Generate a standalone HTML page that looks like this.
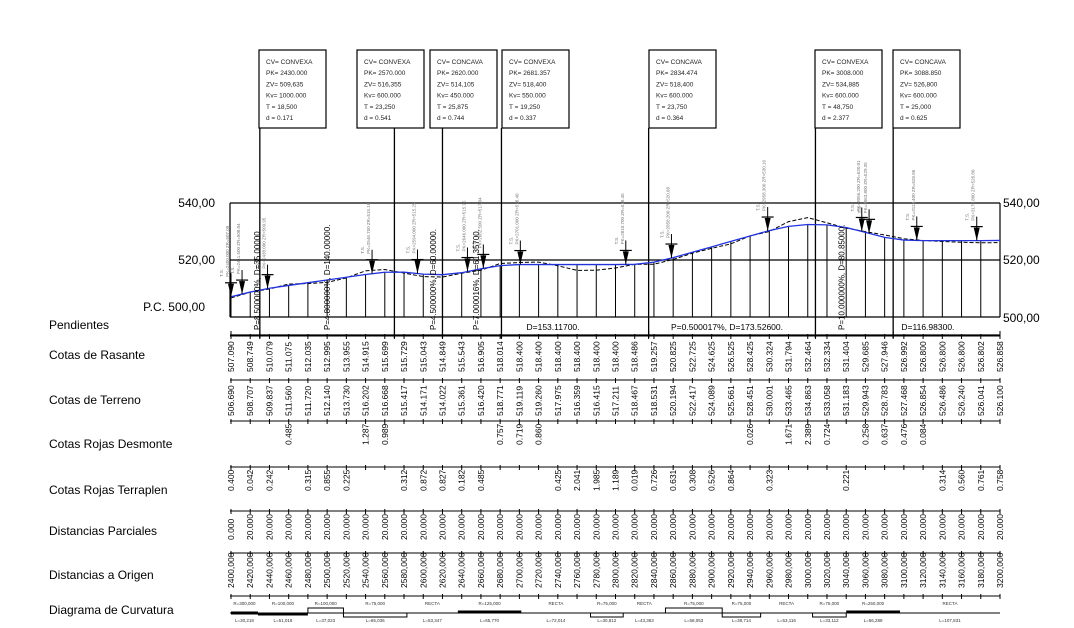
<!DOCTYPE html>
<html><head><meta charset="utf-8"><style>
html,body{margin:0;padding:0;background:#fff;}
svg{display:block;font-family:"Liberation Sans",sans-serif;}
</style></head><body>
<svg id="c" width="1074" height="628" viewBox="0 0 1074 628" xmlns="http://www.w3.org/2000/svg"></svg>
<script>
const stations=[2400,2420,2440,2460,2480,2500,2520,2540,2560,2580,2600,2620,2640,2660,2680,2700,2720,2740,2760,2780,2800,2820,2840,2860,2880,2900,2920,2940,2960,2980,3000,3020,3040,3060,3080,3100,3120,3140,3160,3180,3200];
const rasante=[507.090,508.749,510.079,511.075,512.035,512.995,513.955,514.915,515.699,515.729,515.043,514.849,515.543,516.905,518.014,518.400,518.400,518.400,518.400,518.400,518.400,518.486,519.257,520.825,522.725,524.625,526.525,528.425,530.324,531.794,532.464,532.334,531.404,529.685,527.946,526.992,526.800,526.800,526.800,526.802,526.858];
const terreno=[506.690,508.707,509.837,511.560,511.720,512.140,513.730,516.202,516.668,515.417,514.171,514.022,515.361,516.420,518.771,519.119,519.260,517.975,516.359,516.415,517.211,518.467,518.531,520.194,522.417,524.089,525.661,528.451,530.001,533.465,534.863,533.058,531.183,529.943,528.783,527.468,526.854,526.486,526.240,526.041,526.100];
const desmonte={3:"0.485",7:"1.287",8:"0.989",14:"0.757",15:"0.719",16:"0.860",27:"0.026",29:"1.671",30:"2.389",31:"0.724",33:"0.258",34:"0.637",35:"0.476",36:"0.084"};
const terraplen={0:"0.400",1:"0.042",2:"0.242",4:"0.315",5:"0.855",6:"0.225",9:"0.312",10:"0.872",11:"0.827",12:"0.182",13:"0.485",17:"0.425",18:"2.041",19:"1.985",20:"1.189",21:"0.019",22:"0.726",23:"0.631",24:"0.308",25:"0.526",26:"0.864",28:"0.323",32:"0.221",37:"0.314",38:"0.560",39:"0.761",40:"0.758"};
const parciales=stations.map((s,i)=>i===0?"0.000":"20.000");
const vertices=[2430,2570,2620,2681.357,2834.474,3008,3088.85];
const cvType=["CONVEXA","CONVEXA","CONCAVA","CONVEXA","CONCAVA","CONVEXA","CONCAVA"];
const cvPK=["2430.000","2570.000","2620.000","2681.357","2834.474","3008.000","3088.850"];
const cvZV=["509,635","516,355","514,105","518,400","518,400","534,885","526,800"];
const cvKv=["1000.000","600.000","450.000","550.000","600.000","600.000","600.000"];
const cvT=["18,500","23,250","25,875","19,250","23,750","48,750","25,000"];
const cvD=["0.171","0.541","0.744","0.337","0.364","2.377","0.625"];
const boxLeft=[259,357,430,502,649,815,893];
const markers=[2400,2411.5,2438,2546.75,2594,2646,2662.5,2701,2810.7,2858.2,2958.3,3056.2,3063.8,3113.4,3175.8];
const slopes=[["P=8.500000%, D=35.00000.",2427,1],["P=4.800000%, D=140.00000.",2500,1],["P=4.500000%, D=60.00000.",2610,1],["P=7.000016%, D=61.35700.",2655,1],["D=153.11700.",2735,0],["P=0.500017%, D=173.52600.",2916,0],["P=10.000000%, D=80.85000.",3035,1],["D=116.98300.",3125,0]];
const curvSeg=[[2400,2428,"thick","R=300,000","L=30,218"],[2428,2480,"thick2","R=100,000","L=51,018"],[2480,2517,"up","R=100,000","L=37,023"],[2517,2583,"down","R=75,000","L=65,036"],[2583,2636,"flat","RECTA","L=53,347"],[2636,2702,"thick3","R=125,000","L=65,770"],[2702,2774,"flat","RECTA","L=72,014"],[2774,2808,"down","R=75,000","L=30,812"],[2808,2852,"flat","RECTA","L=43,363"],[2852,2911,"up","R=75,000","L=58,053"],[2911,2951,"down","R=75,000","L=38,714"],[2951,3005,"flat","RECTA","L=53,116"],[3005,3040,"down","R=75,000","L=33,112"],[3040,3096,"thick3","R=250,000","L=56,288"],[3096,3200,"flat","RECTA","L=107,831"]];

const svg=document.getElementById('c');
const NS="http://www.w3.org/2000/svg";
const X0=231,X1=1000,Ytop=203,Ybot=317;
function xs(pk){return X0+(pk-2400)*(X1-X0)/800;}
function ys(v){return Ybot-(v-500)*(Ybot-Ytop)/40;}
function el(tag,attrs,parent){const e=document.createElementNS(NS,tag);for(const k in attrs)e.setAttribute(k,attrs[k]);(parent||svg).appendChild(e);return e;}
function line(x1,y1,x2,y2,w,c,name){const e=el('line',{x1,y1,x2,y2,stroke:c||'#000','stroke-width':w||1});

return e;}
function text(x,y,t,opts,name){const e=el('text',Object.assign({x,y,'font-size':12,fill:'#000'},opts||{}));e.textContent=t;

return e;}
function rtext(x,y,t,size,name,fill){const e=el('text',{x:0,y:0,'font-size':size,fill:fill||'#000',transform:`translate(${x},${y}) rotate(-90)`});e.textContent=t;

return e;}
function rasAt(pk){for(let i=0;i<stations.length-1;i++){if(pk>=stations[i]&&pk<=stations[i+1]){const t=(pk-stations[i])/20;return rasante[i]+t*(rasante[i+1]-rasante[i]);}}return rasante[rasante.length-1];}

// CV boxes
vertices.forEach((pk,i)=>{
 const bx=boxLeft[i],g=el('g',{});
 
 
 const r=el('rect',{x:bx,y:50,width:67,height:78,fill:'#fff',stroke:'#000','stroke-width':1.2},g);
 
 
 const rows=["CV= "+cvType[i],"PK= "+cvPK[i],"ZV= "+cvZV[i],"Kv= "+cvKv[i],"T =  "+cvT[i],"d =  "+cvD[i]];
 rows.forEach((t,j)=>{const tt=el('text',{x:bx+7,y:64+j*11.2,'font-size':6.5,fill:'#222'},g);tt.textContent=t;
 
 });
 line(xs(pk),128,xs(pk),338,1.3,'#000','vertex-line');
});

// frame
line(230,Ytop,X1,Ytop,1.2,'#000','grid-540');
line(230,ys(520),X1,ys(520),1.2,'#000','grid-520');
line(230,Ybot,X1,Ybot,1.2,'#000','grid-500');
line(230,Ytop,230,Ybot,1.2,'#000','frame-left');
line(X1,Ytop,X1,Ybot,1.2,'#000','frame-right');
text(215,207,"540,00",{'text-anchor':'end','font-size':12},'y-label-540');
text(215,264,"520,00",{'text-anchor':'end','font-size':12},'y-label-520');
text(205,311,"P.C. 500,00",{'text-anchor':'end','font-size':12},'y-label-pc');
text(1003,207,"540,00",{'font-size':12},'y-label-540-right');
text(1003,264,"520,00",{'font-size':12},'y-label-520-right');
text(1003,322,"500,00",{'font-size':12},'y-label-500-right');

// station verticals
stations.forEach((s,i)=>{line(xs(s),ys(rasante[i]),xs(s),Ybot,1,'#000','station-line');});

// terrain dashed
let pt=stations.map((s,i)=>xs(s)+','+ys(terreno[i])).join(' ');
let tl=el('polyline',{points:pt,fill:'none',stroke:'#000','stroke-width':1,'stroke-dasharray':'4,2'});


// rasante blue
pt=stations.map((s,i)=>xs(s)+','+ys(rasante[i])).join(' ');
let rl=el('polyline',{points:pt,fill:'none',stroke:'#2233dd','stroke-width':1.3});



// markers
markers.forEach((pk,i)=>{
 const x=xs(pk),y=ys(rasAt(pk));
 const g=el('g',{});
 
 
 el('line',{x1:x-6,y1:y-14,x2:x+6,y2:y-14,stroke:'#000','stroke-width':1.2},g);
 el('line',{x1:x,y1:y-24,x2:x,y2:y,stroke:'#000','stroke-width':1},g);
 el('polygon',{points:`${x-3},${y-13} ${x+3},${y-13} ${x},${y}`,fill:'#000'},g);
 rtext(x-2,y-20,"PK="+pk.toFixed(3)+" ZR="+rasAt(pk).toFixed(2),4.5,'marker-label','#777');
 rtext(x-8,y-20,"T.S.",4.5,'marker-ts','#777');
});

// slopes text
slopes.forEach(s=>{
 const x=xs(s[1]);
 if(s[2]) rtext(x+3,330,s[0],8,'slope-label');
 else text(x,330,s[0],{'text-anchor':'middle','font-size':8.5},'slope-label');
});

// pendientes line + ticks
line(230,335,X1,335,1.2,'#000','pendientes-line');
[2400].concat(vertices,[3200]).forEach(pk=>line(xs(pk),331,xs(pk),339,1,'#000','pendientes-tick'));

// row labels
const rowLabels=[["Pendientes",329],["Cotas de Rasante",359],["Cotas de Terreno",404],["Cotas Rojas Desmonte",448],["Cotas Rojas Terraplen",494],["Distancias Parciales",535],["Distancias a Origen",579],["Diagrama de Curvatura",614]];
rowLabels.forEach(r=>text(49,r[1],r[0],{'font-size':12},'row-label'));

// table rows
function row(yLine,getter,name,yStart){
 line(230,yLine,X1,yLine,1.1,'#000',name+'-rule');
 stations.forEach((s,i)=>{
  const x=xs(s);
  line(x,yLine-2,x,yLine+3,1,'#000',name+'-tick');
  const v=getter(i);
  if(v!==undefined) rtext(x+3,yStart,v,8.5,name+'-value');
 });
}
row(336,i=>rasante[i].toFixed(3),'rasante',372);
row(380,i=>terreno[i].toFixed(3),'terreno',416);
row(421,i=>desmonte[i],'desmonte',445);
row(467,i=>terraplen[i],'terraplen',491);
row(511,i=>parciales[i],'parciales',540);
row(553,i=>stations[i].toFixed(3).replace('.',','),'origen',588);
line(230,596,X1,596,1.1,'#000','curvature-rule');
stations.forEach(s=>line(xs(s),594,xs(s),599,1,'#000','curvature-tick'));

// curvature diagram
line(230,613,X1,613,1.1,'#000','curvature-baseline');
curvSeg.forEach(c=>{
 const a=xs(c[0]),b=xs(c[1]),m=(a+b)/2;
 let p;
 if(c[2]==='up') p=el('polyline',{points:`${a},613 ${a},608 ${b},608 ${b},613`,fill:'none',stroke:'#000','stroke-width':1});
 else if(c[2]==='down') p=el('polyline',{points:`${a},613 ${a},617 ${b},617 ${b},613`,fill:'none',stroke:'#000','stroke-width':1});
 else if(c[2]==='thick') p=el('line',{x1:a,y1:613,x2:b,y2:613,stroke:'#000','stroke-width':3});
 else if(c[2]==='thick2') p=el('line',{x1:a,y1:614,x2:b,y2:614,stroke:'#000','stroke-width':3});
 else if(c[2]==='thick3') p=el('line',{x1:a,y1:612,x2:b,y2:612,stroke:'#000','stroke-width':3});
 else p=el('line',{x1:a,y1:613,x2:b,y2:613,stroke:'#000','stroke-width':1});
 
 
 text(m,605,c[3],{'text-anchor':'middle','font-size':4.5,fill:'#333'},'curvature-radius');
 text(m,622,c[4],{'text-anchor':'middle','font-size':4.5,fill:'#333'},'curvature-length');
});
</script>
</body></html>
